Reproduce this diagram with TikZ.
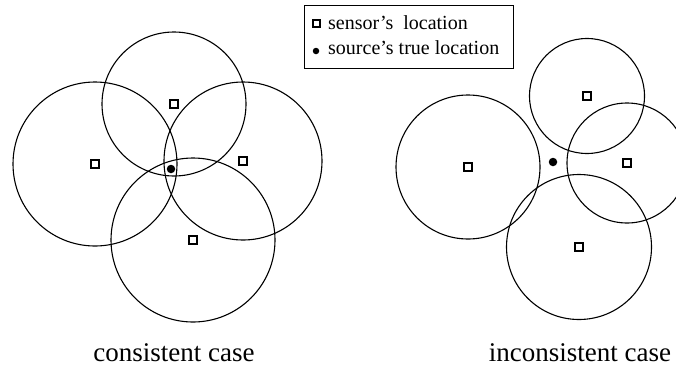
\documentclass[tikz,border=0pt]{standalone}
\usepackage{fontspec}
\setmainfont{Liberation Serif}
\usetikzlibrary{positioning}
\tikzset{
    sensor/.style={
        rectangle, draw=black, fill=white, line width=2.3pt,
        minimum size=8.5pt, inner sep=0pt
    },
    source/.style={
        circle, fill=black, minimum size=8.5pt, inner sep=0pt
    },
    rangecircle/.style={
        draw=black, line width=1.1pt
    },
    caselabel/.style={
        anchor=base, font=\fontsize{27}{30}\selectfont
    },
    legendtext/.style={
        anchor=base west, inner sep=0pt, font=\fontsize{20}{22}\selectfont
    }
}
\begin{document}
\begin{tikzpicture}[x=1pt, y=-1pt]
    \useasboundingbox (0,0) rectangle (676,370);

    % consistent case
    \node[sensor] (ca) at (95,164)  {};
    \node[sensor] (cb) at (174,104) {};
    \node[sensor] (cc) at (243,161) {};
    \node[sensor] (cd) at (193,240) {};
    \draw[rangecircle] (ca) circle[radius=82pt];
    \draw[rangecircle] (cb) circle[radius=72pt];
    \draw[rangecircle] (cc) circle[radius=79pt];
    \draw[rangecircle] (cd) circle[radius=82pt];
    \node[source] (csrc) at (171,169) {};

    % inconsistent case
    \node[sensor] (ia) at (468,167) {};
    \node[sensor] (ib) at (587,96)  {};
    \node[sensor] (ic) at (627,163) {};
    \node[sensor] (id) at (579,247) {};
    \draw[rangecircle] (ia) circle[radius=72pt];
    \draw[rangecircle] (ib) circle[radius=57.5pt];
    \draw[rangecircle] (ic) circle[radius=60pt];
    \draw[rangecircle] (id) circle[radius=72.5pt];
    \node[source] (isrc) at (553,162) {};

    % legend
    \node[draw=black, line width=1pt, minimum width=209pt, minimum height=63pt] (legend) at (408.5,36.5) {};
    \node[sensor, minimum size=7pt, line width=2pt] (lsensor) at (316,23) {};
    \node[source, minimum size=6.5pt] (lsource) at (316,51) {};
    \node[legendtext] (lsensortext) at (328,29) {sensor’s~ location};
    \node[legendtext] (lsourcetext) at (328,54) {source’s true location};

    \node[caselabel] (consistent) at (174,361) {consistent case};
    \node[caselabel] (inconsistent) at (580,361) {inconsistent case};
\end{tikzpicture}
\end{document}
